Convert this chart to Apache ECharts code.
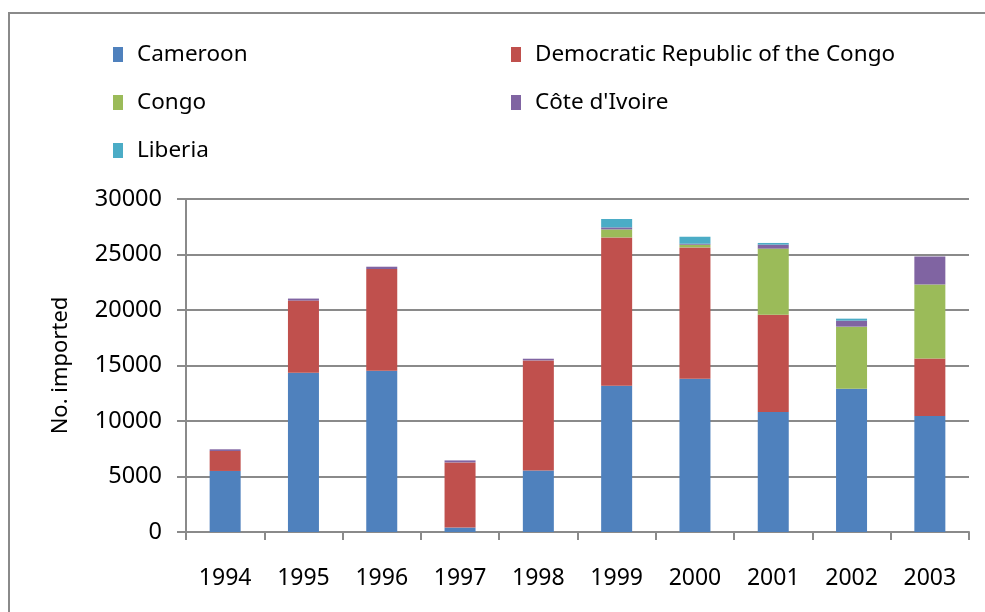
<!DOCTYPE html>
<html>
<head>
<meta charset="utf-8">
<script src="https://cdn.jsdelivr.net/npm/echarts@6/dist/echarts.min.js"></script>
<style>
html,body{margin:0;padding:0;background:#fff;}
#c{width:985px;height:612px;}
</style>
</head>
<body>
<div id="c"></div>
<script>
var years = ['1994','1995','1996','1997','1998','1999','2000','2001','2002','2003'];
var seriesNames = ['Cameroon','Democratic Republic of the Congo','Congo',"Côte d'Ivoire",'Liberia'];
var cameroon = [5500, 14350, 14530, 400, 5550, 13180, 13810, 10810, 12910, 10450];
var drc      = [1800, 6500, 9160, 5870, 9910, 13360, 11830, 8770, 0, 5170];
var congo    = [0, 0, 0, 0, 0, 720, 240, 5950, 5590, 6680];
var coteIvoire = [150, 180, 210, 180, 150, 180, 90, 360, 540, 2520];
var liberia  = [0, 0, 0, 0, 0, 760, 630, 150, 180, 0];
var yTicks = [0, 5000, 10000, 15000, 20000, 25000, 30000];

var colors = ['#4F81BD','#C0504D','#9BBB59','#8064A2','#4BACC6'];
var values = [cameroon, drc, congo, coteIvoire, liberia];
var FONT = 'Noto Sans';

var legendPos = [
  {left: 113, top: 43},
  {left: 511, top: 43},
  {left: 113, top: 91},
  {left: 511, top: 91},
  {left: 113, top: 139}
];
var legends = seriesNames.map(function(n, i){
  return {
    data: [n], left: legendPos[i].left, top: legendPos[i].top, padding: 0,
    icon: 'rect', itemWidth: 10, itemHeight: 15, itemGap: 0,
    selectedMode: false,
    textStyle: {fontFamily: FONT, fontSize: 22.5, color: '#000', padding: [0,0,0,9]}
  };
});

var chart = echarts.init(document.getElementById('c'));
chart.setOption({
  animation: false,
  color: colors,
  graphic: [{
    type: 'rect', shape: {x: 9, y: 13, width: 990, height: 620},
    style: {fill: 'none', stroke: '#8a8a8a', lineWidth: 2}, silent: true, z: -1
  }],
  legend: legends,
  grid: {left: 186, right: 16, top: 199, bottom: 80},
  xAxis: {
    type: 'category', data: years,
    axisLine: {lineStyle: {color: '#8a8a8a', width: 2}},
    axisTick: {show: true, length: 8, lineStyle: {color: '#8a8a8a', width: 2}},
    axisLabel: {fontFamily: FONT, fontSize: 23, color: '#000', margin: 35}
  },
  yAxis: {
    type: 'value', min: yTicks[0], max: yTicks[yTicks.length-1], interval: yTicks[1]-yTicks[0],
    name: 'No. imported', nameLocation: 'middle', nameGap: 114, nameRotate: 90,
    nameTextStyle: {fontFamily: FONT, fontSize: 22, color: '#000'},
    axisLine: {show: true, lineStyle: {color: '#8a8a8a', width: 2}},
    axisTick: {show: true, length: 9, lineStyle: {color: '#8a8a8a', width: 2}},
    axisLabel: {fontFamily: FONT, fontSize: 23.5, color: '#000', margin: 24,
      formatter: function(v){ return String(v); }},
    splitLine: {show: true, lineStyle: {color: '#8a8a8a', width: 2}}
  },
  series: seriesNames.map(function(n, i){
    return {
      name: n, type: 'bar', stack: 'total', data: values[i], barWidth: 31,
      itemStyle: {color: colors[i]}
    };
  })
});
</script>
</body>
</html>
